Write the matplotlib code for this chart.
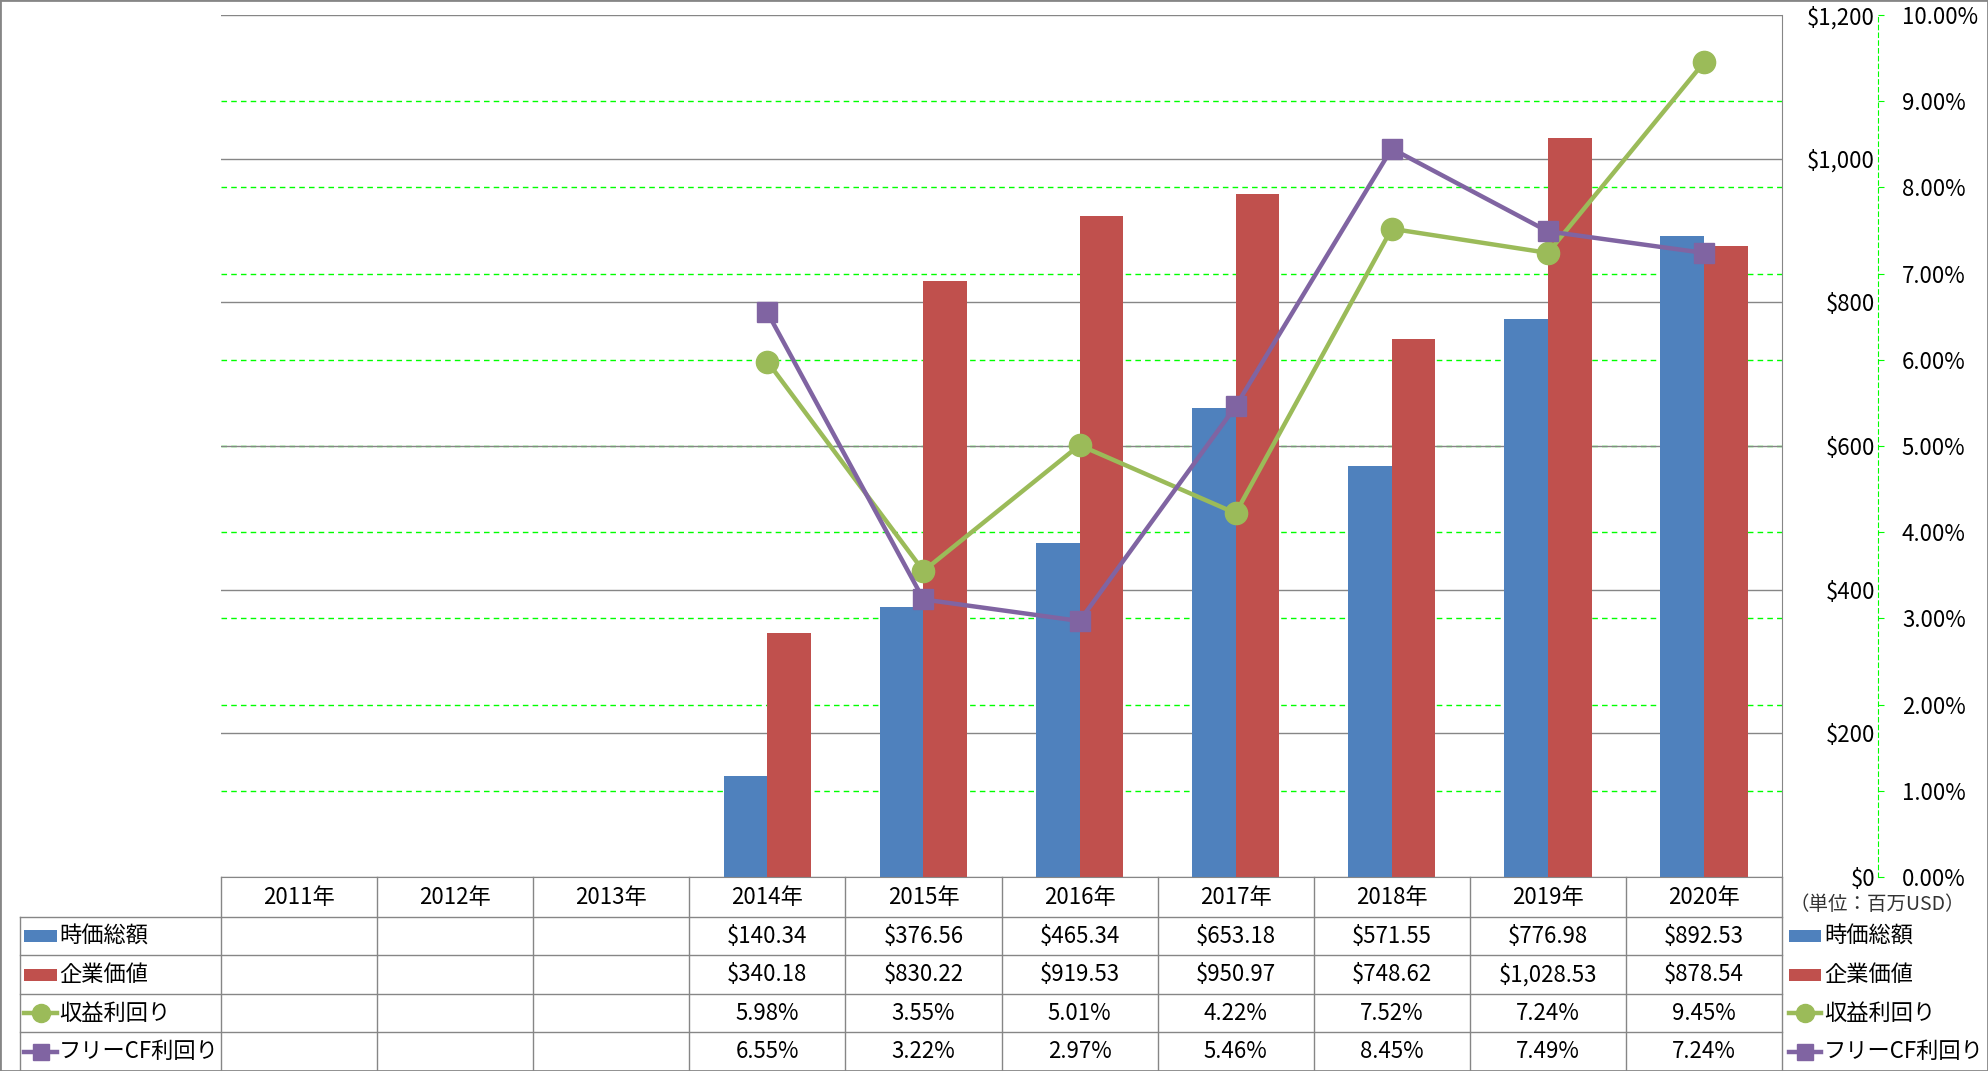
import numpy as np
import matplotlib.pyplot as plt
import matplotlib.transforms as mtransforms
from matplotlib.lines import Line2D
from matplotlib.patches import Rectangle

plt.rcParams['font.family'] = ['Noto Sans CJK JP', 'DejaVu Sans']

# data
years = ["2011年", "2012年", "2013年", "2014年", "2015年",
         "2016年", "2017年", "2018年", "2019年", "2020年"]
series_names = ["時価総額", "企業価値", "収益利回り", "フリーCF利回り"]
market_cap = [np.nan, np.nan, np.nan, 140.34, 376.56, 465.34, 653.18, 571.55, 776.98, 892.53]
enterprise_value = [np.nan, np.nan, np.nan, 340.18, 830.22, 919.53, 950.97, 748.62, 1028.53, 878.54]
earnings_yield = [np.nan, np.nan, np.nan, 5.98, 3.55, 5.01, 4.22, 7.52, 7.24, 9.45]
fcf_yield = [np.nan, np.nan, np.nan, 6.55, 3.22, 2.97, 5.46, 8.45, 7.49, 7.24]
unit_label = "（単位：百万USD）"

BLUE, RED, GREEN, PURPLE = "#4F81BD", "#C0504D", "#9BBB59", "#8064A2"
GRID = "#868686"
LIME = "#00FF00"
FS = 16
LFS = 16

W, H = 1988, 1071
fig = plt.figure(figsize=(W / 100, H / 100), dpi=100)


def fx(px):
    return px / W


def fy(py):
    return 1 - py / H


ax = fig.add_axes([fx(221), fy(877), fx(1782) - fx(221), fy(15) - fy(877)])
ax2 = ax.twinx()
x = np.arange(len(years))
w = 0.28

cap_max, pct_max = 1200, 10.0

# green dashed pct grid behind bars
for p in np.arange(1, 10):
    ax.axhline(p / pct_max * cap_max, color=LIME, lw=1, ls=(0, (4, 3)), zorder=0.5)
ax.yaxis.grid(True, color=GRID, lw=1, zorder=0.6)
ax.set_axisbelow(True)

ax.bar(x - w / 2, market_cap, w, color=BLUE, zorder=2)
ax.bar(x + w / 2, enterprise_value, w, color=RED, zorder=2)

ax.set_xlim(-0.5, len(years) - 0.5)
ax.set_ylim(0, cap_max)
ax.set_xticks([])
ax.set_yticks(np.arange(0, 1201, 200))
ax.set_yticklabels([f"${v:,.0f}" for v in np.arange(0, 1201, 200)])
ax.yaxis.set_ticks_position('right')
ax.tick_params(axis='y', which='both', left=False, labelleft=False, right=True,
               labelright=True, length=0, pad=67, labelsize=FS)
for lab in ax.get_yticklabels():
    lab.set_ha('right')
for s in ['left', 'top']:
    ax.spines[s].set_visible(False)
ax.spines['bottom'].set_color(GRID)
ax.spines['right'].set_color(GRID)

ax2.plot(x, earnings_yield, color=GREEN, lw=3.2, marker='o', ms=16, zorder=3)
ax2.plot(x, fcf_yield, color=PURPLE, lw=3.2, marker='s', ms=15, zorder=4)
ax2.set_ylim(0, pct_max)
ax2.set_yticks(np.arange(0, 10.01, 1))
ax2.set_yticklabels([f"{v:.2f}%" for v in np.arange(0, 10.01, 1)])
for s in ['left', 'top', 'bottom']:
    ax2.spines[s].set_visible(False)
ax2.spines['right'].set_position(('outward', 69))
ax2.spines['right'].set_color(LIME)
ax2.spines['right'].set_linestyle((0, (4, 3)))
ax2.tick_params(axis='y', direction='out', length=4.3, color=LIME, pad=13, labelsize=FS)

# table
blend = mtransforms.blended_transform_factory(ax.transData, fig.transFigure)
line_kw = dict(color=GRID, lw=1, clip_on=False)

for i in range(len(years) + 1):
    fig.add_artist(Line2D([i - 0.5, i - 0.5], [fy(877), fy(1071)], transform=blend, **line_kw))
for py in [917, 955, 994, 1032]:
    fig.add_artist(Line2D([fx(20), fx(1782)], [fy(py), fy(py)], transform=fig.transFigure, **line_kw))
fig.add_artist(Line2D([fx(20), fx(20)], [fy(917), fy(1071)], transform=fig.transFigure, **line_kw))

for i, yr in enumerate(years):
    fig.text(i, fy(897), yr, transform=blend, ha='center', va='center', fontsize=FS)

row_y = [936, 974.5, 1013, 1051.5]
rows = [
    [f"${v:,.2f}" if not np.isnan(v) else "" for v in market_cap],
    [f"${v:,.2f}" if not np.isnan(v) else "" for v in enterprise_value],
    [f"{v:.2f}%" if not np.isnan(v) else "" for v in earnings_yield],
    [f"{v:.2f}%" if not np.isnan(v) else "" for v in fcf_yield],
]
for ry, vals in zip(row_y, rows):
    for i, t in enumerate(vals):
        if t:
            fig.text(i, fy(ry), t, transform=blend, ha='center', va='center', fontsize=FS)


def legend_key(x0, x1, py, kind, color):
    if kind == 'bar':
        fig.add_artist(Rectangle((fx(x0), fy(py + 6)), fx(x1) - fx(x0), fy(py - 6) - fy(py + 6),
                                 transform=fig.transFigure, color=color, lw=0))
    else:
        xc = (x0 + x1) / 2
        fig.add_artist(Line2D([fx(x0), fx(xc), fx(x1)], [fy(py)] * 3, transform=fig.transFigure,
                              color=color, lw=3.2, marker='o' if kind == 'o' else 's',
                              ms=13 if kind == 'o' else 12, markevery=[1]))


kinds = ['bar', 'bar', 'o', 's']
colors = [BLUE, RED, GREEN, PURPLE]
for ry, name, k, c in zip(row_y, series_names, kinds, colors):
    legend_key(24, 57, ry, k, c)
    fig.text(fx(59), fy(ry), name, ha='left', va='center', fontsize=LFS)
    legend_key(1789, 1821, ry, k, c)
    fig.text(fx(1824), fy(ry), name, ha='left', va='center', fontsize=LFS)

fig.text(fx(1877), fy(905), unit_label, ha='center', va='center', fontsize=14, color='#333333')

fig.add_artist(Rectangle((0, 0), 1, 1, transform=fig.transFigure, fill=False,
                         edgecolor=GRID, lw=2))

fig.savefig("out.png", dpi=100)
